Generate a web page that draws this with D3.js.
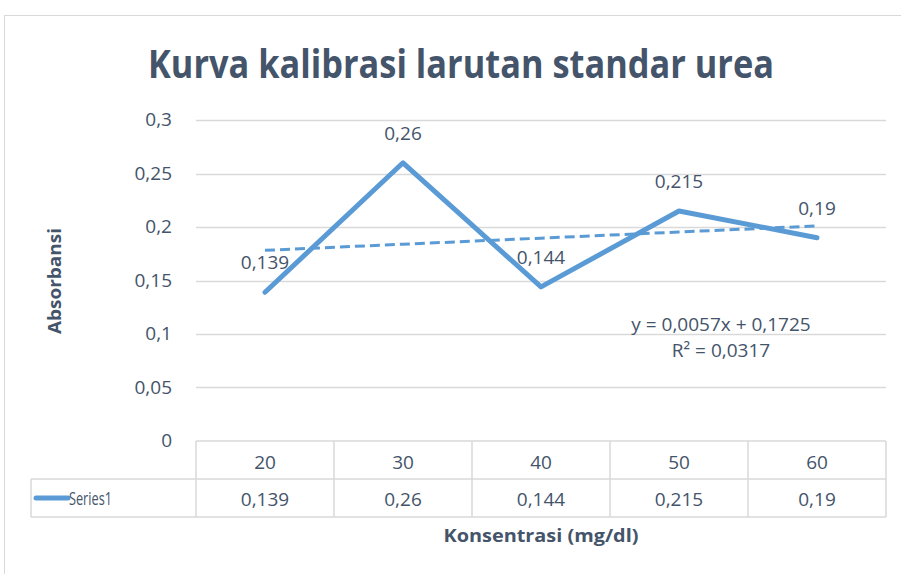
<!DOCTYPE html>
<html>
<head>
<meta charset="utf-8">
<script src="https://d3js.org/d3.v7.min.js"></script>
<style>
  body { margin: 0; background: #fff; }
  text { font-family: "Open Sans", "Noto Sans", sans-serif; fill: #44546a; }
</style>
</head>
<body>
<div id="chart"></div>
<script>
var categories = ["20", "30", "40", "50", "60"];
var values = [0.139, 0.26, 0.144, 0.215, 0.19];
var valueLabels = ["0,139", "0,26", "0,144", "0,215", "0,19"];
var yTicks = [0, 0.05, 0.1, 0.15, 0.2, 0.25, 0.3];
var yTickLabels = ["0", "0,05", "0,1", "0,15", "0,2", "0,25", "0,3"];
var seriesName = "Series1";
// linear trend: y = 0,0057x + 0,1725 (x = 1..5)
var trendSlope = 0.0057, trendIntercept = 0.1725;
var trendLabels = ["y = 0,0057x + 0,1725", "R² = 0,0317"];

var width = 901, height = 574;
var blue = "#5b9bd5", grid = "#d9d9d9";
var plot = { left: 196, right: 886, top: 120, bottom: 441 };
var fs = 19;

var svg = d3.select("#chart").append("svg")
  .attr("width", width)
  .attr("height", height);

// chart frame
svg.append("rect")
  .attr("x", 4.5).attr("y", 15.5)
  .attr("width", 920).attr("height", 600)
  .attr("fill", "#fff")
  .attr("stroke", grid);

var x = d3.scaleBand()
  .domain(categories)
  .range([plot.left, plot.right]);

var y = d3.scaleLinear()
  .domain([0, 0.3])
  .range([plot.bottom, plot.top]);

var cx = function (c) { return x(c) + x.bandwidth() / 2; };

// gridlines
svg.append("g").selectAll("line")
  .data(yTicks.filter(function (d) { return d > 0; }))
  .enter().append("line")
  .attr("x1", plot.left).attr("x2", plot.right)
  .attr("y1", function (d) { return Math.round(y(d)) + 0.5; })
  .attr("y2", function (d) { return Math.round(y(d)) + 0.5; })
  .attr("stroke", grid)
  .attr("stroke-width", 1.5);

// y tick labels
svg.append("g").selectAll("text")
  .data(yTicks)
  .enter().append("text")
  .attr("x", 172)
  .attr("y", function (d) { return y(d) + 6; })
  .attr("text-anchor", "end")
  .attr("font-size", fs)
  .text(function (d, i) { return yTickLabels[i]; });

// title
svg.append("text")
  .attr("x", 461).attr("y", 78)
  .attr("text-anchor", "middle")
  .attr("font-size", 39)
  .attr("font-weight", 700)
  .attr("textLength", 626)
  .attr("lengthAdjust", "spacingAndGlyphs")
  .text("Kurva kalibrasi larutan standar urea");

// axis titles
svg.append("text")
  .attr("transform", "translate(61,281) rotate(-90)")
  .attr("text-anchor", "middle")
  .attr("font-size", 17)
  .attr("font-weight", 700)
  .attr("textLength", 106)
  .attr("lengthAdjust", "spacingAndGlyphs")
  .text("Absorbansi");

svg.append("text")
  .attr("x", 541).attr("y", 542)
  .attr("text-anchor", "middle")
  .attr("font-size", 17)
  .attr("font-weight", 700)
  .attr("textLength", 195)
  .attr("lengthAdjust", "spacingAndGlyphs")
  .text("Konsentrasi (mg/dl)");

// data table
var rowTop = plot.bottom, rowMid = 479, rowBot = 517, legendLeft = 31;
var tbl = svg.append("g").attr("stroke", grid).attr("stroke-width", 1.5);
tbl.append("line").attr("x1", plot.left).attr("x2", plot.right).attr("y1", rowTop).attr("y2", rowTop);
tbl.append("line").attr("x1", legendLeft).attr("x2", plot.right).attr("y1", rowMid).attr("y2", rowMid);
tbl.append("line").attr("x1", legendLeft).attr("x2", plot.right).attr("y1", rowBot).attr("y2", rowBot);
tbl.append("line").attr("x1", legendLeft).attr("x2", legendLeft).attr("y1", rowMid).attr("y2", rowBot);
tbl.selectAll("line.v")
  .data(categories.map(function (c) { return x(c); }).concat([plot.right]))
  .enter().append("line")
  .attr("x1", function (d) { return d; }).attr("x2", function (d) { return d; })
  .attr("y1", rowTop).attr("y2", rowBot);

svg.append("g").selectAll("text")
  .data(categories)
  .enter().append("text")
  .attr("x", cx).attr("y", 469)
  .attr("text-anchor", "middle")
  .attr("font-size", fs)
  .text(function (d) { return d; });

svg.append("g").selectAll("text")
  .data(categories)
  .enter().append("text")
  .attr("x", cx).attr("y", 506)
  .attr("text-anchor", "middle")
  .attr("font-size", fs)
  .text(function (d, i) { return valueLabels[i]; });

svg.append("line")
  .attr("x1", 36).attr("x2", 68)
  .attr("y1", 498).attr("y2", 498)
  .attr("stroke", blue).attr("stroke-width", 5)
  .attr("stroke-linecap", "round");
svg.append("text")
  .attr("x", 69).attr("y", 505)
  .attr("font-size", fs)
  .attr("textLength", 43)
  .attr("lengthAdjust", "spacingAndGlyphs")
  .text(seriesName);

// series line
var line = d3.line()
  .x(function (d, i) { return cx(categories[i]); })
  .y(function (d) { return y(d); });

svg.append("path")
  .datum(values)
  .attr("d", line)
  .attr("fill", "none")
  .attr("stroke", blue)
  .attr("stroke-width", 5)
  .attr("stroke-linecap", "round")
  .attr("stroke-linejoin", "round");

// trendline
var trend = categories.map(function (c, i) { return trendIntercept + trendSlope * (i + 1); });
svg.append("path")
  .datum(trend)
  .attr("d", line)
  .attr("fill", "none")
  .attr("stroke", blue)
  .attr("stroke-width", 3)
  .attr("stroke-dasharray", "10,5");

// data labels
svg.append("g").selectAll("text")
  .data(values)
  .enter().append("text")
  .attr("x", function (d, i) { return cx(categories[i]); })
  .attr("y", function (d) { return y(d) - 23; })
  .attr("text-anchor", "middle")
  .attr("font-size", fs)
  .text(function (d, i) { return valueLabels[i]; });

// trend equation
svg.append("g").selectAll("text")
  .data(trendLabels)
  .enter().append("text")
  .attr("x", 721)
  .attr("y", function (d, i) { return 331 + i * 26; })
  .attr("text-anchor", "middle")
  .attr("font-size", fs)
  .text(function (d) { return d; });
</script>
</body>
</html>
